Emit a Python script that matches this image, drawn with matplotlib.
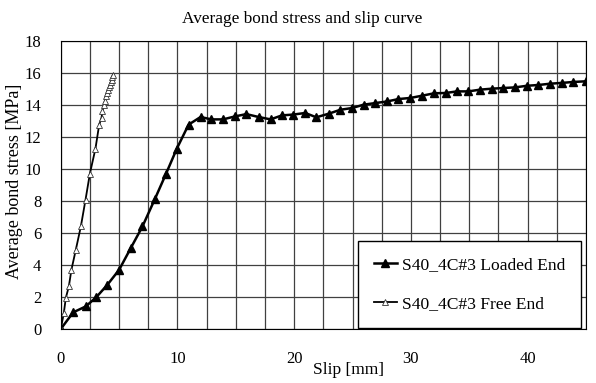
import numpy as np
import matplotlib
matplotlib.use('Agg')
import matplotlib.pyplot as plt
from matplotlib.ticker import MultipleLocator

# Loaded end: slip [mm] and average bond stress [MPa]
loaded_slip = [0, 1.06, 2.14, 3.06, 4.0, 5.0, 6.0, 7.0, 8.05, 9.0, 9.95, 10.95,
               11.98, 12.9, 13.9, 14.95, 15.9, 16.95, 17.98, 18.95, 19.9, 20.95,
               21.9, 22.98, 23.95, 24.96, 25.96, 26.96, 27.96, 28.93, 29.96, 30.96,
               31.99, 32.99, 33.96, 34.93, 35.96, 36.96, 37.93, 38.94, 39.94, 40.93,
               41.94, 42.94, 43.94, 45.0]
loaded_stress = [0, 1.04, 1.41, 2.0, 2.77, 3.7, 5.06, 6.41, 8.1, 9.67, 11.28, 12.77,
                 13.25, 13.1, 13.1, 13.29, 13.43, 13.25, 13.1, 13.35, 13.4, 13.5,
                 13.23, 13.46, 13.7, 13.81, 14.02, 14.12, 14.22, 14.37, 14.44, 14.58,
                 14.73, 14.75, 14.85, 14.85, 14.96, 15.02, 15.06, 15.1, 15.2, 15.25,
                 15.33, 15.38, 15.44, 15.48]

# Free end
free_slip = [0, 0.26, 0.43, 0.69, 0.91, 1.29, 1.72, 2.12, 2.49, 2.97, 3.29, 3.49,
             3.57, 3.69, 3.78, 3.86, 3.96, 4.06, 4.13, 4.2, 4.28, 4.35, 4.42, 4.49]
free_stress = [0, 1.0, 1.94, 2.66, 3.7, 4.96, 6.41, 8.08, 9.7, 11.27, 12.77, 13.2,
               13.6, 14.0, 14.27, 14.54, 14.75, 14.96, 15.1, 15.27, 15.42, 15.58,
               15.73, 15.89]

plt.rcParams['font.family'] = ['Liberation Serif', 'DejaVu Serif']
plt.rcParams['font.size'] = 12

fig = plt.figure(figsize=(5.96, 3.83), dpi=100)
ax = fig.add_axes([0.102, 0.141, 0.881, 0.752])

ax.plot(loaded_slip, loaded_stress, color='black', lw=1.8, marker='^',
        markersize=5.5, markerfacecolor='black', markeredgecolor='black',
        label='S40_4C#3 Loaded End')
ax.plot(free_slip, free_stress, color='black', lw=1.3, marker='^',
        markersize=5, markerfacecolor='white', markeredgecolor='#333333',
        markeredgewidth=0.6, label='S40_4C#3 Free End')

ax.set_xlim(0, 45)
ax.set_ylim(0, 18)
ax.xaxis.set_major_locator(MultipleLocator(10))
ax.xaxis.set_minor_locator(MultipleLocator(2.5))
ax.yaxis.set_major_locator(MultipleLocator(2))
ax.grid(True, which='both', color='#404040', lw=0.9)
ax.set_axisbelow(True)
ax.tick_params(which='both', length=0, labelsize=12)
ax.tick_params(axis='x', pad=16)
ax.tick_params(axis='y', pad=14)
for s in ax.spines.values():
    s.set_color('black')

ax.set_title('Average bond stress and slip curve', fontsize=12.4, pad=13, x=0.46)
ax.set_xlabel('Slip [mm]', fontsize=12.5)
ax.xaxis.set_label_coords(0.547, -0.116)
ax.set_ylabel('Average bond stress [MPa]', fontsize=13)
ax.yaxis.set_label_coords(-0.072, 0.512)

leg = ax.legend(loc='lower right', bbox_to_anchor=(0.9905, 0.0035),
                fancybox=False, edgecolor='black', framealpha=1,
                borderpad=0.9, labelspacing=1.3, handlelength=1.3,
                handletextpad=0.3, borderaxespad=0, fontsize=12.6)
leg.get_frame().set_linewidth(1.0)

fig.savefig('out.png', dpi=100)
